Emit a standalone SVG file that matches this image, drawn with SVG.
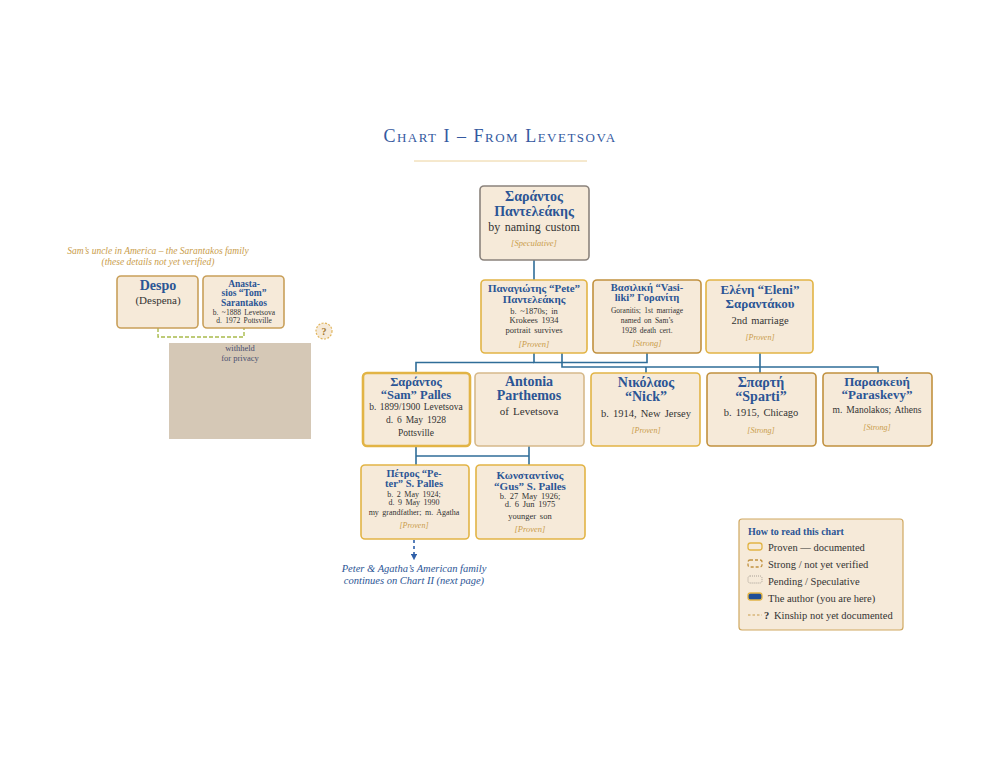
<svg xmlns="http://www.w3.org/2000/svg" width="1000" height="773" viewBox="0 0 1000 773">
<defs>
<style>
text{font-family:"Liberation Serif","DejaVu Serif",serif;text-anchor:middle}
.box{fill:#f6ead9;rx:4;stroke-width:1.6}
.pr{stroke:#e2b445}
.st{stroke:#c1913f}
.sp{stroke:#8b837c}
.nm{fill:#2b5595;font-weight:bold}
.bd{fill:#333;word-spacing:1.5px}
.tg{fill:#c99c4a;font-style:italic}
.cn{stroke:#2f6d98;stroke-width:1.6;fill:none}
</style>
<marker id="ah" viewBox="0 0 6 6" refX="3" refY="3" markerWidth="4" markerHeight="4" orient="auto"><path d="M0,0 L6,3 L0,6 z" fill="#2f5fa8"/></marker>
</defs>
<rect width="1000" height="773" fill="#ffffff"/>
<text x="500" y="142" fill="#3459a0" font-size="18" style="font-variant:small-caps;letter-spacing:1.5px">Chart I – From Levetsova</text>
<line x1="414" y1="161" x2="587" y2="161" stroke="#ecd29c" stroke-width="1"/>

<g id="connectors">
<line class="cn" x1="534" y1="260" x2="534" y2="280"/>
<polyline class="cn" points="534,353 534,362.5 647,362.5 647,353"/>
<polyline class="cn" points="416,373 416,362.5 534,362.5"/>
<polyline class="cn" points="562,353 562,367 878,367 878,373"/>
<line class="cn" x1="760" y1="353" x2="760" y2="373"/>
<line class="cn" x1="646" y1="367" x2="646" y2="373"/>
<polyline class="cn" points="416,446 416,465"/>
<polyline class="cn" points="529,446 529,465"/>
<line class="cn" x1="416" y1="456" x2="529" y2="456"/>
<line x1="414" y1="540" x2="414" y2="557" stroke="#2f5fa8" stroke-width="1.6" stroke-dasharray="3,3" marker-end="url(#ah)"/>
<polyline points="158,328 158,337 244,337 244,328" fill="none" stroke="#a9bb4c" stroke-width="1.4" stroke-dasharray="4,2"/>
</g>

<g id="sarantos">
<rect class="box sp" x="480" y="186" width="109" height="74"/>
<text class="nm" x="534" y="201" font-size="14">Σαράντος</text>
<text class="nm" x="534" y="216" font-size="14">Παντελεάκης</text>
<text class="bd" x="534" y="231" font-size="12">by naming custom</text>
<text class="tg" x="534" y="246" font-size="8.5">[Speculative]</text>
</g>

<g id="pete">
<rect class="box pr" x="481" y="280" width="106" height="73"/>
<text class="nm" x="534" y="292" font-size="11">Παναγιώτης “Pete”</text>
<text class="nm" x="534" y="303" font-size="11">Παντελεάκης</text>
<text class="bd" x="534" y="314" font-size="8.5">b. ~1870s; in</text>
<text class="bd" x="534" y="323" font-size="8.5">Krokees 1934</text>
<text class="bd" x="534" y="333" font-size="8.5">portrait survives</text>
<text class="tg" x="534" y="347" font-size="8.5">[Proven]</text>
</g>

<g id="vasiliki">
<rect class="box st" x="593" y="280" width="108" height="73"/>
<text class="nm" x="647" y="291" font-size="10.5">Βασιλική “Vasi-</text>
<text class="nm" x="647" y="301" font-size="10.5">liki” Γορανίτη</text>
<text class="bd" x="647" y="313" font-size="7.5">Goranitis; 1st marriage</text>
<text class="bd" x="647" y="323" font-size="7.5">named on Sam’s</text>
<text class="bd" x="647" y="333" font-size="7.5">1928 death cert.</text>
<text class="tg" x="647" y="346" font-size="8.5">[Strong]</text>
</g>

<g id="eleni">
<rect class="box pr" x="706" y="280" width="107" height="73"/>
<text class="nm" x="760" y="294" font-size="13">Ελένη “Eleni”</text>
<text class="nm" x="760" y="308" font-size="13">Σαραντάκου</text>
<text class="bd" x="760" y="324" font-size="10.5">2nd marriage</text>
<text class="tg" x="760" y="340" font-size="8">[Proven]</text>
</g>

<g id="sam">
<rect class="box pr" x="363" y="373" width="107" height="73" style="stroke-width:2.6"/>
<text class="nm" x="416" y="386" font-size="12.5">Σαράντος</text>
<text class="nm" x="416" y="399" font-size="12.5">“Sam” Palles</text>
<text class="bd" x="416" y="410" font-size="9.5" style="word-spacing:1px">b. 1899/1900 Levetsova</text>
<text class="bd" x="416" y="423" font-size="9.5">d. 6 May 1928</text>
<text class="bd" x="416" y="436" font-size="9.5">Pottsville</text>
</g>

<g id="antonia">
<rect class="box" x="475" y="373" width="109" height="73" stroke="#d6b98a" stroke-width="1.2"/>
<text class="nm" x="529" y="386" font-size="14">Antonia</text>
<text class="nm" x="529" y="400" font-size="14">Parthemos</text>
<text class="bd" x="529" y="415" font-size="11">of Levetsova</text>
</g>

<g id="nick">
<rect class="box pr" x="591" y="373" width="109" height="73"/>
<text class="nm" x="646" y="387" font-size="14">Νικόλαος</text>
<text class="nm" x="646" y="401" font-size="14">“Nick”</text>
<text class="bd" x="646" y="417" font-size="10.5">b. 1914, New Jersey</text>
<text class="tg" x="646" y="433" font-size="8">[Proven]</text>
</g>

<g id="sparti">
<rect class="box st" x="707" y="373" width="109" height="73"/>
<text class="nm" x="761" y="387" font-size="14">Σπαρτή</text>
<text class="nm" x="761" y="401" font-size="14">“Sparti”</text>
<text class="bd" x="761" y="416" font-size="10.5">b. 1915, Chicago</text>
<text class="tg" x="761" y="433" font-size="8">[Strong]</text>
</g>

<g id="paraskevy">
<rect class="box st" x="823" y="373" width="109" height="73"/>
<text class="nm" x="877" y="386" font-size="13">Παρασκευή</text>
<text class="nm" x="877" y="399" font-size="13">“Paraskevy”</text>
<text class="bd" x="877" y="413" font-size="9.5">m. Manolakos; Athens</text>
<text class="tg" x="877" y="430" font-size="8">[Strong]</text>
</g>

<g id="peter">
<rect class="box pr" x="361" y="465" width="108" height="74"/>
<text class="nm" x="414" y="477" font-size="10.5">Πέτρος “Pe-</text>
<text class="nm" x="414" y="487" font-size="10.5">ter” S. Palles</text>
<text class="bd" x="414" y="497" font-size="8">b. 2 May 1924;</text>
<text class="bd" x="414" y="505" font-size="8">d. 9 May 1990</text>
<text class="bd" x="414" y="515" font-size="8">my grandfather; m. Agatha</text>
<text class="tg" x="414" y="528" font-size="8">[Proven]</text>
</g>

<g id="gus">
<rect class="box pr" x="476" y="465" width="109" height="74"/>
<text class="nm" x="530" y="479" font-size="11">Κωνσταντίνος</text>
<text class="nm" x="530" y="490" font-size="11">“Gus” S. Palles</text>
<text class="bd" x="530" y="499" font-size="8.5">b. 27 May 1926;</text>
<text class="bd" x="530" y="507" font-size="8.5">d. 6 Jun 1975</text>
<text class="bd" x="530" y="519" font-size="8.5">younger son</text>
<text class="tg" x="530" y="532" font-size="8.5">[Proven]</text>
</g>

<g id="continues">
<text x="414" y="572" font-size="10.5" fill="#2b5595" font-style="italic">Peter &amp; Agatha’s American family</text>
<text x="414" y="584" font-size="10.5" fill="#2b5595" font-style="italic">continues on Chart II (next page)</text>
</g>

<g id="sarantakos-caption">
<text x="158" y="254" font-size="9.5" fill="#c99c4a" font-style="italic">Sam’s uncle in America – the Sarantakos family</text>
<text x="158" y="265" font-size="9.5" fill="#c99c4a" font-style="italic">(these details not yet verified)</text>
</g>

<g id="despo">
<rect class="box" x="117" y="276" width="81" height="52" stroke="#c9a05a" stroke-width="1.4"/>
<text class="nm" x="158" y="290" font-size="14">Despo</text>
<text class="bd" x="158" y="304" font-size="11">(Despena)</text>
</g>

<g id="tom">
<rect class="box" x="203" y="276" width="81" height="52" stroke="#c9a05a" stroke-width="1.4"/>
<text class="nm" x="244" y="287" font-size="9.5">Anasta-</text>
<text class="nm" x="244" y="296" font-size="9.5">sios “Tom”</text>
<text class="nm" x="244" y="306" font-size="9.5">Sarantakos</text>
<text class="bd" x="244" y="315" font-size="7.5">b. ~1888 Levetsova</text>
<text class="bd" x="244" y="323" font-size="7.5">d. 1972 Pottsville</text>
</g>

<g id="unknown">
<circle cx="324" cy="331" r="8" fill="#f6ead9" stroke="#e0b45a" stroke-width="1.2" stroke-dasharray="2,1.5"/>
<text x="324" y="335" font-size="10" font-weight="bold" fill="#a0762a">?</text>
</g>

<g id="withheld">
<rect x="169" y="343" width="142" height="96" fill="#d5c8b6"/>
<text x="240" y="351" font-size="8.5" fill="#4a5070">withheld</text>
<text x="240" y="361" font-size="8.5" fill="#4a5070">for privacy</text>
</g>

<g id="legend">
<rect x="739" y="519" width="164" height="111" rx="3" fill="#f6ead9" stroke="#d0a860" stroke-width="1.2"/>
<text x="748" y="535" font-size="10" font-weight="bold" fill="#2b5595" style="text-anchor:start">How to read this chart</text>
<rect x="748" y="543" width="14" height="7" rx="2.5" fill="#f6ead9" stroke="#e2b445" stroke-width="1.3"/>
<text x="768" y="551" font-size="10.5" class="bd" style="text-anchor:start;word-spacing:0">Proven — documented</text>
<rect x="748" y="560" width="14" height="7" rx="2" fill="#f6ead9" stroke="#c1913f" stroke-width="1.3" stroke-dasharray="3,2"/>
<text x="768" y="568" font-size="10.5" class="bd" style="text-anchor:start;word-spacing:0">Strong / not yet verified</text>
<rect x="748" y="576" width="14" height="7" rx="2" fill="#f6ead9" stroke="#a0998f" stroke-width="0.9" stroke-dasharray="1,1"/>
<text x="768" y="585" font-size="10.5" class="bd" style="text-anchor:start;word-spacing:0">Pending / Speculative</text>
<rect x="748" y="593" width="14" height="7" rx="2.5" fill="#1f4e96" stroke="#e2b445" stroke-width="1.3"/>
<text x="768" y="602" font-size="10.5" class="bd" style="text-anchor:start;word-spacing:0">The author (you are here)</text>
<line x1="748" y1="615" x2="762" y2="615" stroke="#c99c4a" stroke-width="1" stroke-dasharray="2.5,2"/>
<text x="764" y="619" font-size="10.5" class="bd" font-weight="bold" style="text-anchor:start">?</text>
<text x="774" y="619" font-size="10.5" class="bd" style="text-anchor:start;word-spacing:0">Kinship not yet documented</text>
</g>
</svg>
